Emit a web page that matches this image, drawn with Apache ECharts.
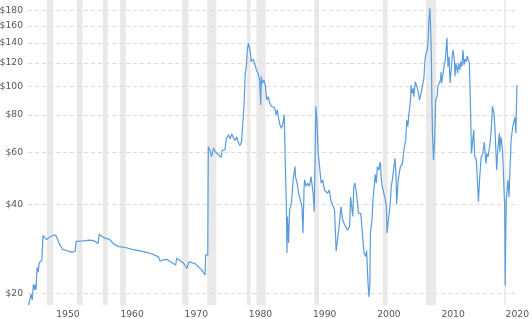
<!DOCTYPE html>
<html><head><meta charset="utf-8">
<script src="https://cdn.jsdelivr.net/npm/echarts@6/dist/echarts.min.js"></script>
<style>html,body{margin:0;padding:0;background:#fff}#c{width:532px;height:319px}</style>
</head><body><div id="c"></div>
<script>
const dates = [
'1946-01','1946-06','1946-08','1946-10','1946-12','1947-01','1947-03','1947-05','1947-07','1947-09','1947-11','1948-02','1948-04','1948-07','1948-11','1949-03','1949-08',
'1950-01','1950-05','1950-11','1951-05','1952-02','1952-09','1953-04','1953-06','1954-07','1955-07','1956-04','1956-11','1957-01','1957-07','1958-01','1958-08','1959-05',
'1960-02','1961-02','1962-03','1963-03','1964-04','1965-04','1966-04','1966-07','1967-01','1967-08','1968-02','1968-08','1968-12','1969-02','1969-06',
'1970-03','1970-09','1971-01','1972-01','1973-01','1973-07','1973-08','1973-12','1974-01','1974-04','1974-07','1974-11','1975-02','1975-08','1976-01','1976-03','1976-08','1976-11','1977-03','1977-06','1977-09','1977-12','1978-03','1978-06','1978-09','1978-12','1979-03','1979-06','1979-08','1979-10','1979-12',
'1980-02','1980-04','1980-06','1980-08','1980-09','1981-01','1981-04','1981-07','1981-10','1982-01','1982-03','1982-04','1982-06','1982-09','1982-12','1983-02','1983-05','1983-08','1983-11','1984-02','1984-05','1984-08','1984-10','1985-01','1985-03','1985-06','1985-09','1985-11','1986-01','1986-03','1986-04','1986-05','1986-07','1986-09','1986-12','1987-04','1987-07','1987-08','1987-11','1988-02','1988-05','1988-08','1988-10','1988-12','1989-01','1989-04','1989-07','1989-10',
'1990-01','1990-05','1990-07','1990-10','1990-12','1991-02','1991-05','1991-08','1991-11','1992-02','1992-05','1992-08','1992-11','1993-02','1993-05','1993-09','1993-12','1994-06','1994-09','1994-12','1995-03','1995-09','1996-01','1996-03','1996-05','1996-07','1996-09','1996-11','1997-02','1997-04','1997-06','1997-10','1998-01','1998-04','1998-07','1998-09','1998-11','1999-01','1999-03','1999-04','1999-07','1999-09',
'2000-01','2000-03','2000-05','2000-08','2000-10','2000-11','2000-12','2001-02','2001-05','2001-07','2001-10','2001-11','2002-03','2002-05','2002-07','2002-09','2002-12','2003-02','2003-04','2003-05','2003-08','2003-11','2003-12','2004-04','2004-06','2004-08','2004-10','2004-12','2005-02','2005-04','2005-05','2005-07','2005-08','2005-10','2005-12','2006-01','2006-04','2006-07','2006-09','2006-12','2007-05','2007-08','2007-10','2007-12','2008-02','2008-04','2008-05','2008-07','2008-08','2008-09','2008-10','2008-11','2008-12','2009-02','2009-04','2009-05','2009-06','2009-09','2009-10',
'2010-01','2010-03','2010-04','2010-05','2010-07','2010-10','2010-12','2011-03','2011-05','2011-07','2011-09','2011-11','2012-02','2012-03','2012-05','2012-06','2012-08','2012-11','2013-01','2013-03','2013-05','2013-07','2013-09','2013-11','2014-01','2014-03','2014-05','2014-07','2014-09','2014-11','2015-01','2015-03','2015-05','2015-07','2015-10','2016-02','2016-04','2016-07','2016-10','2017-01','2017-04','2017-06','2017-08','2017-12','2018-03','2018-04','2018-07','2018-09','2018-12','2019-02','2019-05','2019-06','2019-08','2019-11',
'2020-03','2020-04','2020-05','2020-06','2020-09','2020-11','2021-01','2021-03','2021-06','2021-10','2021-12','2022-01','2022-02'
];
const prices = [
18.3,19.9,19.0,21.5,20.6,21.4,20.6,24.5,23.6,25.4,25.5,26.0,31.4,30.9,30.4,30.9,31.2,
31.6,31.2,29.3,28.2,27.9,27.6,27.7,30.0,30.1,30.3,30.1,29.5,31.7,31.1,30.7,30.5,29.3,
28.8,28.6,28.2,27.9,27.6,27.2,26.6,25.7,26.0,26.1,25.6,25.2,25.0,26.3,26.0,
25.3,24.3,25.6,25.2,24.0,23.1,27.0,27.0,62.6,61.0,57.9,61.9,60.2,58.8,57.6,60.9,61.0,66.8,68.6,66.5,69.1,67.0,65.7,67.5,64.8,63.2,64.8,77.0,88.0,110.7,116.5,
132.7,139.8,138.0,129.3,121.1,123.6,122.4,113.6,110.7,105.1,86.6,108.0,102.4,105.1,99.8,90.0,92.3,87.6,85.7,86.6,84.7,80.1,83.3,77.0,74.1,72.2,75.9,80.1,53.6,39.3,27.4,36.4,29.6,38.3,40.0,49.0,53.6,49.6,47.1,43.6,41.3,39.3,32.0,45.3,48.4,46.0,47.1,46.0,
49.6,43.6,37.8,85.7,77.0,61.0,53.6,47.1,48.4,44.7,45.3,43.6,44.7,41.3,40.8,38.3,27.8,34.5,39.3,35.5,34.4,32.8,33.6,42.3,39.3,36.4,45.8,47.2,43.6,40.0,37.3,37.3,32.0,27.4,26.7,27.9,22.8,19.5,21.4,32.0,35.5,41.8,
50.5,47.1,53.6,52.2,55.6,54.1,49.6,46.0,45.3,42.3,39.3,32.0,37.3,40.0,46.0,48.4,53.6,57.2,49.6,40.0,48.4,48.4,53.6,55.0,59.4,63.2,65.7,77.0,73.2,81.1,83.3,90.0,101.1,94.8,98.5,92.3,103.7,105.1,96.6,90.0,99.8,106.5,122.7,129.3,132.7,143.4,163.2,183.4,167.4,147.1,125.9,87.6,69.5,56.5,64.9,77.0,90.0,93.1,99.8,
101.1,105.1,112.0,102.4,108.0,118.2,122.7,145.7,116.5,125.9,102.4,113.6,132.7,134.5,123.6,108.0,119.6,110.7,119.6,113.6,121.1,116.5,132.7,118.2,123.6,121.1,126.8,122.7,119.6,85.7,59.4,58.7,71.2,57.9,56.5,40.8,48.4,57.9,59.4,64.9,54.9,59.4,57.9,64.9,77.0,85.7,81.1,71.2,52.2,61.0,69.5,60.2,67.6,61.0,
39.3,21.3,32.0,41.3,48.4,42.3,53.6,65.7,73.2,78.6,69.5,85.7,101.1
];
const recessionStarts = ['1948-11-01','1953-07-01','1957-08-01','1960-04-01','1969-12-01','1973-11-01','1980-01-01','1981-07-01','1990-07-01','2001-03-01','2007-12-01','2020-02-01'];
const recessionEnds   = ['1949-11-01','1954-06-01','1958-05-01','1961-03-01','1970-12-01','1975-04-01','1980-08-01','1982-12-01','1991-04-01','2001-12-01','2009-07-01','2020-05-01'];
const yTickValues = [20, 40, 60, 80, 100, 120, 140, 160, 180];
const xTickYears = [1950, 1960, 1970, 1980, 1990, 2000, 2010, 2020];
const xStart = '1945-12-01', xEnd = '2022-02-01';

// convert 'YYYY-MM[-DD]' to a fractional year for the numeric x axis
function toYear(s) {
  const p = s.split('-').map(Number);
  return p[0] + ((p[1] || 1) - 1) / 12 + ((p[2] || 1) - 1) / 365;
}

const FONT = 'DejaVu Sans';
const chart = echarts.init(document.getElementById('c'), null, {renderer: 'canvas'});
chart.setOption({
  animation: false,
  grid: {left: 28, right: 12, top: 0, bottom: 14},
  xAxis: {
    type: 'value', min: toYear(xStart), max: toYear(xEnd),
    axisLine: {show: false}, axisTick: {show: false}, splitLine: {show: false},
    axisLabel: {
      customValues: xTickYears,
      formatter: v => String(Math.round(v)),
      align: 'left', padding: [0, 0, 0, 2], margin: 5,
      color: '#555', fontSize: 9.2, fontFamily: FONT, hideOverlap: false
    }
  },
  yAxis: {
    type: 'log', min: 18.3, max: 195.6,
    axisLine: {show: false}, axisTick: {show: false}, axisLabel: {show: false}, splitLine: {show: false}
  },
  series: [{
    type: 'line',
    data: dates.map((d, i) => [toYear(d), prices[i]]),
    showSymbol: false, symbol: 'none', z: 3,
    lineStyle: {color: '#5a9bdc', width: 1.2},
    markArea: {
      silent: true, z: 1,
      itemStyle: {color: 'rgba(0,0,0,0.085)'},
      data: recessionStarts.map((s, i) => [{xAxis: toYear(s)}, {xAxis: toYear(recessionEnds[i])}])
    },
    markLine: {
      silent: true, z: 1, symbol: 'none', animation: false,
      lineStyle: {color: '#dcdcdc', type: [4, 3], width: 1},
      label: {position: 'start', distance: 5, formatter: p => '$' + p.value, color: '#555', fontSize: 9.2, fontFamily: FONT},
      data: yTickValues.map(v => ({yAxis: v}))
    }
  }]
});
</script></body></html>
